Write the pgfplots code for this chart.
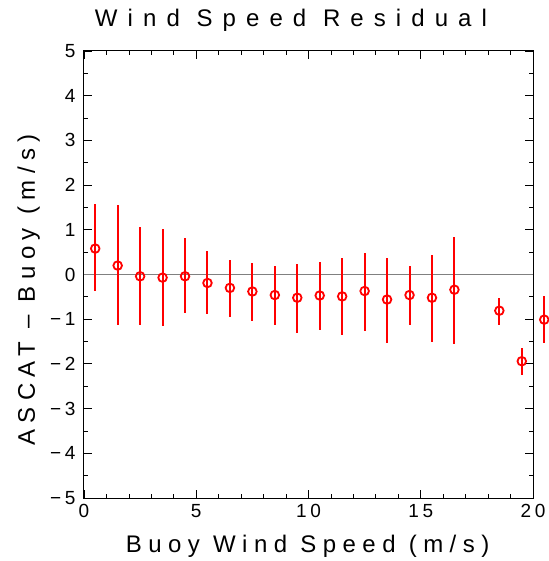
\documentclass[border=0pt]{standalone}
\usepackage{pgfplots}
\pgfplotsset{compat=1.18}
\usepackage{pgfplotstable}
\usepackage{fontspec}
\setmainfont{Liberation Sans}
\newfontfamily\lblfont[LetterSpace=27]{Liberation Sans}
\newfontfamily\ttlfont[LetterSpace=42]{Liberation Sans}
\newfontfamily\tckfont[LetterSpace=20]{Liberation Sans}

\pgfplotstableread{
x    y     ep    em
0.5  0.58  0.99  0.95
1.5  0.20  1.36  1.32
2.5  -0.04 1.11  1.08
3.5  -0.07 1.08  1.08
4.5  -0.04 0.85  0.82
5.5  -0.19 0.71  0.70
6.5  -0.30 0.63  0.65
7.5  -0.38 0.63  0.65
8.5  -0.46 0.65  0.66
9.5  -0.52 0.75  0.78
10.5 -0.47 0.75  0.78
11.5 -0.49 0.85  0.87
12.5 -0.37 0.86  0.90
13.5 -0.56 0.94  0.97
14.5 -0.46 0.65  0.66
15.5 -0.52 0.96  0.99
16.5 -0.34 1.17  1.21
18.5 -0.81 0.29  0.31
19.5 -1.94 0.30  0.31
20.5 -1.01 0.53  0.53
}\resid

\begin{document}
\begin{tikzpicture}
\begin{axis}[
  scale only axis, width=449pt, height=447pt,
  xmin=0, xmax=20, ymin=-5, ymax=5,
  xtick={0,5,...,20}, minor x tick num=4,
  ytick={-5,-4,...,5}, minor y tick num=1,
  yticklabels={−5,−4,−3,−2,−1,0,1,2,3,4,5},
  tick align=inside, major tick length=8pt, minor tick length=4pt,
  every tick/.style={black, line width=0.8pt},
  axis line style={line width=1pt},
  clip=false,
  /pgf/number format/assume math mode=true,
  ticklabel style={font=\tckfont\fontsize{19}{21}\selectfont},
  xticklabel style={yshift=-3pt},
  yticklabel style={xshift=-5pt},
  title={\ttlfont\fontsize{24}{28}\selectfont Wind Speed Residual},
  title style={anchor=base, at={(axis description cs:0.461,1)}, yshift=18pt},
  xlabel={\lblfont\fontsize{24}{28}\selectfont Buoy Wind Speed (m/s)},
  xlabel style={anchor=base, at={(axis description cs:0.498,0)}, yshift=-54pt},
  ylabel={\lblfont\fontsize{24}{28}\selectfont ASCAT – Buoy (m/s)},
  ylabel style={anchor=base, at={(axis description cs:0,0.465)}, yshift=49pt},
]
\addplot[gray, line width=1pt] coordinates {(0,0) (20,0)};
\addplot[red, only marks, mark=o, mark size=4.3pt, line width=1.8pt,
  error bars/.cd, y dir=both, y explicit, error mark=none,
  error bar style={line width=2pt, red}]
  table[x=x, y=y, y error plus=ep, y error minus=em] {\resid};
\end{axis}
\pgfresetboundingbox
\path (-84pt,-63pt) rectangle (464pt,498pt);
\end{tikzpicture}
\end{document}
